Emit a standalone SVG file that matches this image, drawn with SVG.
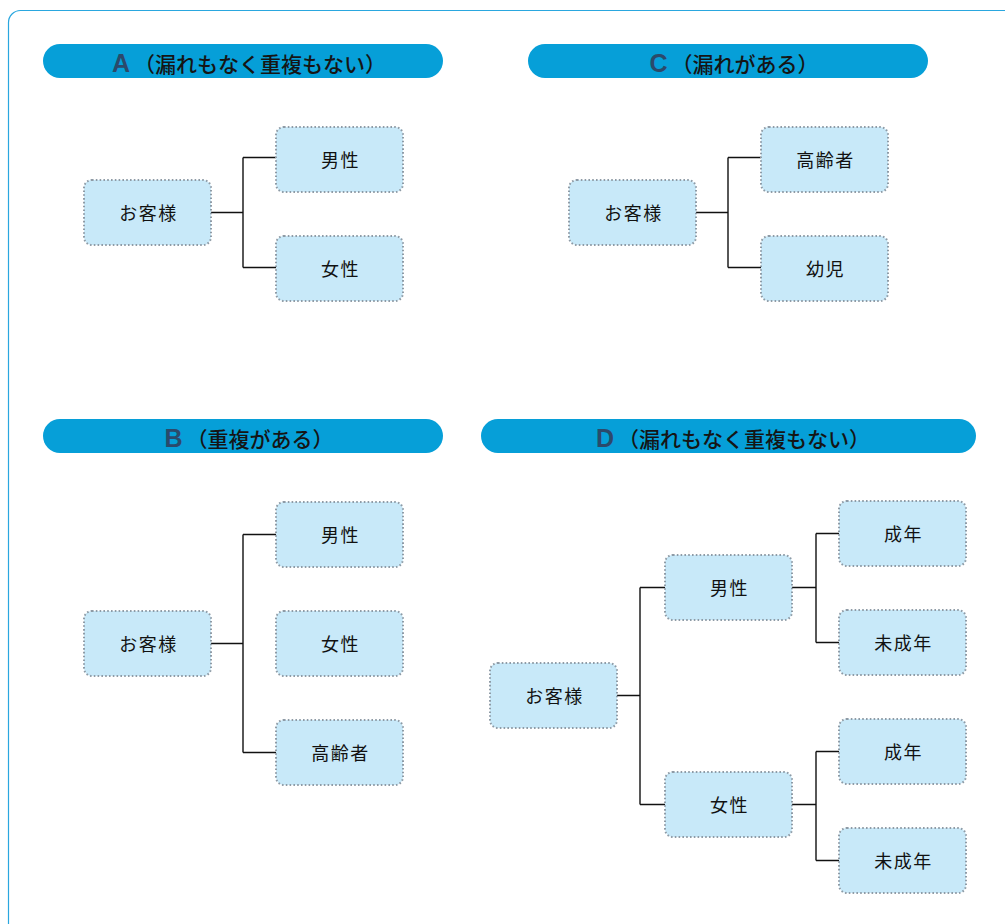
<svg xmlns="http://www.w3.org/2000/svg" width="1005" height="924" viewBox="0 0 1005 924">
<style>
.frame{fill:#fff;stroke:#2aa7df;stroke-width:1.2}
.bar{fill:#069fd8}
.letter{font-family:"Liberation Sans",Arial,sans-serif;font-size:25px;font-weight:bold;fill:#2b4a6b}
.ht{font-family:"Noto Sans CJK JP","Noto Sans",sans-serif;font-size:21px;font-weight:500;fill:#151515}
.box{fill:#c8e9f9;stroke:#8e9ba6;stroke-width:2;stroke-dasharray:1.6 2.2}
.lbl{font-family:"Noto Sans CJK JP","Noto Sans",sans-serif;font-size:18px;letter-spacing:1.5px;fill:#111;text-anchor:middle;dominant-baseline:central}
.conn{fill:none;stroke:#111;stroke-width:1.4}
</style>
<rect class="frame" x="8.5" y="10.5" width="1020" height="940" rx="12"/>

<g id="header-A"><rect class="bar" x="43" y="44" width="400" height="34" rx="17"/><text x="249" y="72" text-anchor="middle"><tspan class="letter">A</tspan><tspan class="ht" dx="4">（漏れもなく重複もない）</tspan></text></g>
<g id="header-C"><rect class="bar" x="528" y="44" width="400" height="34" rx="17"/><text x="734" y="72" text-anchor="middle"><tspan class="letter">C</tspan><tspan class="ht" dx="4">（漏れがある）</tspan></text></g>
<g id="header-B"><rect class="bar" x="43" y="419" width="400" height="34" rx="17"/><text x="249" y="447" text-anchor="middle"><tspan class="letter">B</tspan><tspan class="ht" dx="4">（重複がある）</tspan></text></g>
<g id="header-D"><rect class="bar" x="481" y="419" width="495" height="34" rx="17"/><text x="733" y="447" text-anchor="middle"><tspan class="letter">D</tspan><tspan class="ht" dx="4">（漏れもなく重複もない）</tspan></text></g>

<g id="connectors">
<path class="conn" d="M211 212.5H243M243 157.5V267.5M243 157.5H276M243 267.5H276"/>
<path class="conn" d="M696 212.5H728M728 157.5V267.5M728 157.5H761M728 267.5H761"/>
<path class="conn" d="M211 643.5H243M243 534.5V752.5M243 534.5H276M243 752.5H276"/>
<path class="conn" d="M617 695.5H640M640 587.5V804.5M640 587.5H665M640 804.5H665"/>
<path class="conn" d="M792 587.5H816M816 533.5V642.5M816 533.5H839M816 642.5H839"/>
<path class="conn" d="M792 804.5H816M816 751.5V860.5M816 751.5H839M816 860.5H839"/>
</g>

<g id="A-root"><rect class="box" x="84" y="180" width="127" height="65" rx="8"/><text class="lbl" x="148.5" y="211.5">お客様</text></g>
<g id="A-male"><rect class="box" x="276" y="127" width="127" height="65" rx="8"/><text class="lbl" x="340.5" y="158.5">男性</text></g>
<g id="A-female"><rect class="box" x="276" y="236" width="127" height="65" rx="8"/><text class="lbl" x="340.5" y="267.5">女性</text></g>

<g id="C-root"><rect class="box" x="569" y="180" width="127" height="65" rx="8"/><text class="lbl" x="633.5" y="211.5">お客様</text></g>
<g id="C-elderly"><rect class="box" x="761" y="127" width="127" height="65" rx="8"/><text class="lbl" x="825.5" y="158.5">高齢者</text></g>
<g id="C-infant"><rect class="box" x="761" y="236" width="127" height="65" rx="8"/><text class="lbl" x="825.5" y="267.5">幼児</text></g>

<g id="B-root"><rect class="box" x="84" y="611" width="127" height="65" rx="8"/><text class="lbl" x="148.5" y="642.5">お客様</text></g>
<g id="B-male"><rect class="box" x="276" y="502" width="127" height="65" rx="8"/><text class="lbl" x="340.5" y="533.5">男性</text></g>
<g id="B-female"><rect class="box" x="276" y="611" width="127" height="65" rx="8"/><text class="lbl" x="340.5" y="642.5">女性</text></g>
<g id="B-elderly"><rect class="box" x="276" y="720" width="127" height="65" rx="8"/><text class="lbl" x="340.5" y="751.5">高齢者</text></g>

<g id="D-root"><rect class="box" x="490" y="663" width="127" height="65" rx="8"/><text class="lbl" x="554.5" y="694.5">お客様</text></g>
<g id="D-male"><rect class="box" x="665" y="555" width="127" height="65" rx="8"/><text class="lbl" x="729.5" y="586.5">男性</text></g>
<g id="D-female"><rect class="box" x="665" y="772" width="127" height="65" rx="8"/><text class="lbl" x="729.5" y="803.5">女性</text></g>
<g id="D-male-adult"><rect class="box" x="839" y="501" width="127" height="65" rx="8"/><text class="lbl" x="903.5" y="532.5">成年</text></g>
<g id="D-male-minor"><rect class="box" x="839" y="610" width="127" height="65" rx="8"/><text class="lbl" x="903.5" y="641.5">未成年</text></g>
<g id="D-female-adult"><rect class="box" x="839" y="719" width="127" height="65" rx="8"/><text class="lbl" x="903.5" y="750.5">成年</text></g>
<g id="D-female-minor"><rect class="box" x="839" y="828" width="127" height="65" rx="8"/><text class="lbl" x="903.5" y="859.5">未成年</text></g>
</svg>
